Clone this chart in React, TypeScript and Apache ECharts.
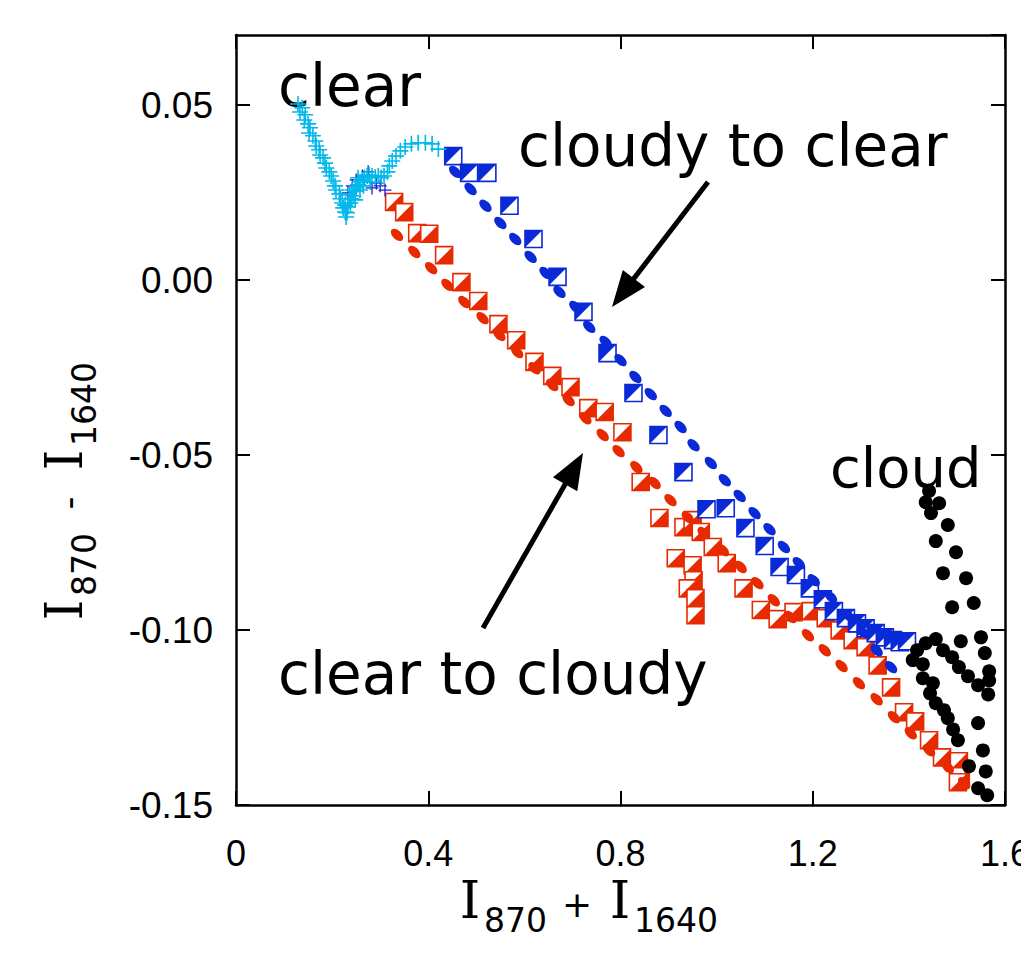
import React, { useEffect, useRef } from "react";
import * as echarts from "echarts";

// ---- data ----
const xTickValues = [0, 0.4, 0.8, 1.2, 1.6];
const yTickValues = [-0.15, -0.1, -0.05, 0, 0.05];

// "clear" (cyan crosses)
const clearPts: [number, number][] = [
  [0.129, 0.0503], [0.138, 0.0492], [0.133, 0.048], [0.144, 0.0472], [0.142, 0.0457],
  [0.15, 0.0446], [0.154, 0.0435], [0.152, 0.042], [0.16, 0.0412], [0.165, 0.0397],
  [0.167, 0.0383], [0.173, 0.0372], [0.175, 0.0357], [0.181, 0.0349], [0.185, 0.0334],
  [0.188, 0.032], [0.194, 0.0309], [0.198, 0.0297], [0.202, 0.0283], [0.206, 0.0269],
  [0.208, 0.0257], [0.215, 0.0246], [0.217, 0.0232], [0.221, 0.022], [0.223, 0.0206],
  [0.227, 0.0194], [0.229, 0.018], [0.231, 0.0192], [0.233, 0.0209], [0.238, 0.022],
  [0.24, 0.0232], [0.244, 0.024], [0.248, 0.0254], [0.25, 0.0263], [0.254, 0.0272],
  [0.258, 0.028], [0.263, 0.0286], [0.267, 0.0292], [0.273, 0.0297], [0.277, 0.03],
  [0.283, 0.0297], [0.29, 0.0294], [0.296, 0.0297], [0.302, 0.0292], [0.308, 0.0297],
  [0.315, 0.0309], [0.319, 0.0326], [0.325, 0.034], [0.333, 0.0354], [0.342, 0.0369],
  [0.352, 0.038], [0.365, 0.0389], [0.379, 0.0392], [0.394, 0.0392], [0.408, 0.0389],
  [0.421, 0.0374], [0.227, 0.0214], [0.235, 0.0243], [0.242, 0.0257], [0.254, 0.0292],
  [0.265, 0.0269], [0.279, 0.028], [0.258, 0.0257], [0.248, 0.0229],
];

// dark blue crosses under the cyan ones
const clearDarkPts: [number, number][] = [
  [0.233, 0.0249], [0.242, 0.0269], [0.25, 0.0286], [0.263, 0.0297], [0.275, 0.0309],
  [0.283, 0.0263], [0.292, 0.0277], [0.3, 0.0269], [0.31, 0.0257],
];

// "cloudy to clear" (blue half-filled squares)
const toClearSquares: [number, number][] = [
  [0.452, 0.0354], [0.485, 0.0306], [0.523, 0.0306], [0.569, 0.0212], [0.619, 0.0117],
  [0.669, 0.0009], [0.723, -0.0091], [0.773, -0.0209], [0.827, -0.0323], [0.879, -0.0443],
  [0.931, -0.0549], [0.979, -0.0655], [1.019, -0.0652], [1.06, -0.0709], [1.1, -0.076],
  [1.131, -0.082], [1.165, -0.0843], [1.194, -0.0881], [1.221, -0.0912], [1.244, -0.0946],
  [1.269, -0.0966], [1.292, -0.0981], [1.31, -0.0995], [1.331, -0.1009], [1.35, -0.1021],
  [1.367, -0.1029], [1.381, -0.1035], [1.396, -0.1032],
];

// "cloudy to clear" (blue dots)
const toClearDots: [number, number][] = [
  [0.456, 0.0309], [0.488, 0.026], [0.519, 0.0212], [0.55, 0.0163], [0.581, 0.0117],
  [0.613, 0.0066], [0.644, 0.002], [0.673, -0.0034], [0.706, -0.0077], [0.735, -0.0134],
  [0.769, -0.0177], [0.8, -0.0229], [0.831, -0.0277], [0.863, -0.0326], [0.894, -0.0374],
  [0.925, -0.042], [0.952, -0.0472], [0.988, -0.0523], [1.017, -0.0572], [1.048, -0.0617],
  [1.079, -0.0666], [1.11, -0.0712], [1.14, -0.0763], [1.171, -0.0809], [1.202, -0.0858],
  [1.238, -0.0906], [1.273, -0.0958], [1.304, -0.1006], [1.333, -0.1058], [1.363, -0.1106],
];

// "clear to cloudy" (red half-filled squares)
const toCloudySquares: [number, number][] = [
  [0.329, 0.0223], [0.35, 0.0194], [0.377, 0.0134], [0.402, 0.0132], [0.433, 0.0071],
  [0.469, -0.0006], [0.504, -0.006], [0.546, -0.0126], [0.583, -0.0172], [0.621, -0.0234],
  [0.658, -0.0274], [0.696, -0.0306], [0.733, -0.0366], [0.767, -0.0377], [0.804, -0.0435],
  [0.842, -0.0577], [0.881, -0.068], [0.931, -0.0706], [0.95, -0.0686], [0.967, -0.072],
  [0.992, -0.0763], [0.915, -0.0795], [0.95, -0.0815], [1.021, -0.0809], [0.952, -0.0858],
  [0.94, -0.0881], [0.956, -0.0909], [0.956, -0.0958], [1.056, -0.0881], [1.092, -0.0943],
  [1.127, -0.0969], [1.16, -0.0949], [1.196, -0.0946], [1.227, -0.0966], [1.256, -0.1001],
  [1.283, -0.1029], [1.31, -0.1049], [1.335, -0.1101], [1.363, -0.1164], [1.39, -0.1235],
  [1.413, -0.1261], [1.442, -0.1315], [1.469, -0.1364], [1.504, -0.1375], [1.508, -0.1418],
  [1.502, -0.1435],
];

// "clear to cloudy" (red dots)
const toCloudyDots: [number, number][] = [
  [0.335, 0.0129], [0.371, 0.008], [0.406, 0.0034], [0.44, -0.0014], [0.475, -0.0063],
  [0.513, -0.0109], [0.548, -0.0157], [0.585, -0.0206], [0.621, -0.0252], [0.658, -0.03],
  [0.692, -0.0343], [0.727, -0.0395], [0.763, -0.0443], [0.796, -0.0489], [0.833, -0.0535],
  [0.871, -0.058], [0.904, -0.0629], [0.94, -0.0678], [0.973, -0.0723], [1.013, -0.0772],
  [1.05, -0.082], [1.085, -0.0866], [1.119, -0.0915], [1.154, -0.0963], [1.19, -0.1015],
  [1.225, -0.1058], [1.26, -0.1103], [1.296, -0.1152], [1.333, -0.1198], [1.369, -0.1249],
  [1.404, -0.1295], [1.442, -0.1344], [1.481, -0.1392], [1.515, -0.1438],
];

// "cloud" (black dots)
const cloudPts: [number, number][] = [
  [1.442, -0.0603], [1.435, -0.0635], [1.463, -0.0638], [1.446, -0.0666], [1.481, -0.07],
  [1.456, -0.0746], [1.498, -0.0778], [1.471, -0.0838], [1.519, -0.0852], [1.49, -0.0935],
  [1.535, -0.0923], [1.55, -0.1021], [1.508, -0.1032], [1.456, -0.1026], [1.435, -0.1038],
  [1.417, -0.1058], [1.408, -0.1086], [1.429, -0.1098], [1.471, -0.1058], [1.49, -0.1078],
  [1.504, -0.1106], [1.523, -0.1132], [1.544, -0.1158], [1.565, -0.1184], [1.558, -0.1066],
  [1.567, -0.1118], [1.567, -0.1144], [1.429, -0.1138], [1.45, -0.1152], [1.444, -0.1181],
  [1.456, -0.1209], [1.473, -0.1229], [1.481, -0.1252], [1.492, -0.1284], [1.502, -0.1315],
  [1.544, -0.1266], [1.554, -0.1344], [1.56, -0.1404], [1.525, -0.1389], [1.544, -0.1452],
  [1.563, -0.1472],
];

const BLUE = "#0a2ad8";
const RED = "#e82a00";
const CYAN = "#00b8ea";
const DARKBLUE = "#1a22c8";

const PLUS = "path://M7.2 0H8.8V7.2H16V8.8H8.8V16H7.2V8.8H0V7.2H7.2Z";

function squareRender(color: string, upperLeft: boolean) {
  return (_params: any, api: any) => {
    const p = api.coord([api.value(0), api.value(1)]);
    const h = 8.5;
    const x0 = p[0] - h, y0 = p[1] - h, x1 = p[0] + h, y1 = p[1] + h;
    const tri = upperLeft
      ? [[x0, y0], [x1, y0], [x0, y1]]
      : [[x1, y0], [x1, y1], [x0, y1]];
    return {
      type: "group",
      children: [
        { type: "rect", shape: { x: x0, y: y0, width: 2 * h, height: 2 * h }, style: { fill: "#fff", stroke: color, lineWidth: 1.6 } },
        { type: "polygon", shape: { points: tri }, style: { fill: color } },
      ],
    };
  };
}

function titleChildren(op: string) {
  const serif = '"DejaVu Serif", serif';
  const sans = '"DejaVu Sans", sans-serif';
  return [
    { type: "text", x: -115, y: 0, style: { text: "I", font: `52px ${serif}`, fill: "#000", align: "center", verticalAlign: "middle" } },
    { type: "text", x: -101, y: 20, style: { text: "870", font: `33px ${sans}`, fill: "#000", align: "left", verticalAlign: "middle" } },
    { type: "text", x: -8, y: 4, style: { text: op, font: `36px ${sans}`, fill: "#000", align: "center", verticalAlign: "middle" } },
    { type: "text", x: 35, y: 0, style: { text: "I", font: `52px ${serif}`, fill: "#000", align: "center", verticalAlign: "middle" } },
    { type: "text", x: 49, y: 20, style: { text: "1640", font: `33px ${sans}`, fill: "#000", align: "left", verticalAlign: "middle" } },
  ];
}

function arrow(x1: number, y1: number, tx: number, ty: number) {
  const dx = tx - x1, dy = ty - y1;
  const len = Math.sqrt(dx * dx + dy * dy);
  const ux = dx / len, uy = dy / len;
  const hl = 36, hw = 14;
  const bx = tx - hl * ux, by = ty - hl * uy;
  const nx = -uy, ny = ux;
  return [
    { type: "line", shape: { x1, y1, x2: bx + 4 * ux, y2: by + 4 * uy }, style: { stroke: "#000", lineWidth: 5 } },
    { type: "polygon", shape: { points: [[tx, ty], [bx + hw * nx, by + hw * ny], [bx - hw * nx, by - hw * ny]] }, style: { fill: "#000" } },
  ];
}

export default function App() {
  const ref = useRef<HTMLDivElement>(null);
  useEffect(() => {
    if (!ref.current) return;
    const chart = echarts.init(ref.current, null, { renderer: "svg" });
    const axisLine = { show: true, onZero: false, lineStyle: { color: "#000", width: 2.5 } };
    const axisTick = { show: true, inside: true, length: 14, lineStyle: { color: "#000", width: 2 } };
    const labelFont = { fontFamily: '"Liberation Sans", Arial, sans-serif', color: "#000" };
    const annFont = '58px "DejaVu Sans", sans-serif';
    const solid = { opacity: 1 };
    chart.setOption({
      animation: false,
      backgroundColor: "#fff",
      grid: { left: 236, right: 16, top: 35, bottom: 149, containLabel: false, outerBoundsMode: "none" },
      xAxis: [
        {
          type: "value", min: xTickValues[0], max: xTickValues[xTickValues.length - 1], interval: 0.4,
          position: "bottom", axisLine, axisTick, splitLine: { show: false },
          axisLabel: { ...labelFont, fontSize: 36, margin: 30, hideOverlap: false, formatter: (v: number) => (v === 0 ? "0" : v.toFixed(1)) },
        },
        {
          type: "value", min: xTickValues[0], max: xTickValues[xTickValues.length - 1], interval: 0.4,
          position: "top", axisLine, axisTick, splitLine: { show: false }, axisLabel: { show: false },
        },
      ],
      yAxis: [
        {
          type: "value", min: yTickValues[0], max: 0.07, interval: 0.05,
          position: "left", axisLine, axisTick, splitLine: { show: false },
          axisLabel: { ...labelFont, fontSize: 37, margin: 23, showMaxLabel: false, formatter: (v: number) => v.toFixed(2) },
        },
        {
          type: "value", min: yTickValues[0], max: 0.07, interval: 0.05,
          position: "right", axisLine, axisTick, splitLine: { show: false }, axisLabel: { show: false },
        },
      ],
      series: [
        { type: "scatter", data: toCloudyDots, symbol: "circle", symbolSize: [9, 15], symbolRotate: 45, itemStyle: { color: RED, ...solid } },
        { type: "scatter", data: toClearDots, symbol: "circle", symbolSize: [9, 15], symbolRotate: 45, itemStyle: { color: BLUE, ...solid } },
        { type: "custom", data: toCloudySquares, encode: { x: 0, y: 1 }, renderItem: squareRender(RED, false) },
        { type: "custom", data: toClearSquares, encode: { x: 0, y: 1 }, renderItem: squareRender(BLUE, true) },
        { type: "scatter", data: clearDarkPts, symbol: PLUS, symbolSize: 13, itemStyle: { color: DARKBLUE, ...solid } },
        { type: "scatter", data: clearPts, symbol: PLUS, symbolSize: 16, itemStyle: { color: CYAN, ...solid } },
        { type: "scatter", data: cloudPts, symbol: "circle", symbolSize: 14, itemStyle: { color: "#000", ...solid } },
      ],
      graphic: [
        { type: "text", x: 278, y: 86, style: { text: "clear", font: annFont, fill: "#000", verticalAlign: "middle" } },
        { type: "text", x: 518, y: 146, style: { text: "cloudy to clear", font: annFont, fill: "#000", verticalAlign: "middle" } },
        { type: "text", x: 830, y: 467, style: { text: "cloud", font: '56px "DejaVu Sans", sans-serif', fill: "#000", verticalAlign: "middle" } },
        { type: "text", x: 278, y: 674, style: { text: "clear to cloudy", font: annFont, fill: "#000", verticalAlign: "middle" } },
        ...arrow(708, 182, 612, 307),
        ...arrow(483, 628, 583, 453),
        { type: "group", x: 585, y: 900, children: titleChildren("+") },
        { type: "group", x: 64, y: 495, rotation: Math.PI / 2, children: titleChildren("-") },
      ],
    });
    return () => chart.dispose();
  }, []);
  return <div ref={ref} style={{ position: "fixed", left: 0, top: 0, width: 1021, height: 954, background: "#fff" }} />;
}
